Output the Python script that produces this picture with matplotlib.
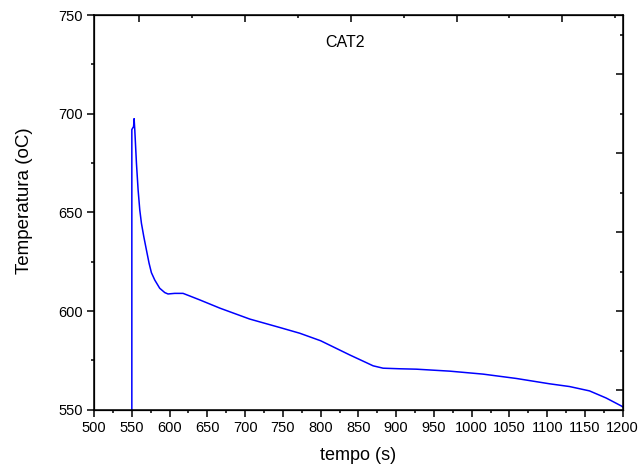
import matplotlib
matplotlib.use("Agg")
import matplotlib.pyplot as plt
from matplotlib.ticker import MultipleLocator

# Curve (time s, temperature oC)
Tempo = [550, 550, 552.3, 553, 553.9, 556.1, 558.3, 560.5, 562.7, 565.8, 569.3,
         572.8, 575.9, 580.3, 586.9, 593.6, 597.9, 606.8, 617.8, 626.6, 639.9,
         666.7, 706, 746, 772.4, 800, 838.6, 860, 869.5, 882.7, 905, 926.7, 971,
         1015, 1059, 1103, 1129.6, 1156, 1178, 1198, 1200]
Temperatura = [550, 692, 693.5, 697.5, 691.8, 674.9, 661.4, 651.3, 644.5, 637.8,
               631.0, 624.3, 619.5, 615.8, 611.6, 609.4, 608.7, 609.0, 609.0,
               607.7, 605.7, 601.5, 596, 591.7, 588.8, 585, 577.8, 574, 572.3,
               571.1, 570.8, 570.6, 569.6, 568.1, 565.9, 563.2, 561.8, 559.6, 556,
               552, 551.5]

plt.rcParams['font.family'] = ['Liberation Sans', 'DejaVu Sans']

Fig = plt.figure(figsize=(6.4, 4.7), dpi=100)
Ax = Fig.add_axes([0.147, 0.128, 0.826, 0.840])
Ax.plot(Tempo, Temperatura, color='#0000ff', linewidth=1.1)

Ax.set_xlim(500, 1200)
Ax.set_ylim(550, 750)
Ax.xaxis.set_major_locator(MultipleLocator(50))
Ax.xaxis.set_minor_locator(MultipleLocator(25))
Ax.yaxis.set_major_locator(MultipleLocator(50))
Ax.yaxis.set_minor_locator(MultipleLocator(25))
Ax.tick_params(which='both', direction='out', width=1.1, labelsize=10.5, pad=3)
Ax.tick_params(which='major', length=5)
Ax.tick_params(which='minor', length=2.5)
for Spine in Ax.spines.values():
    Spine.set_linewidth(1.1)

# mirrored axes with their own ticks pointing inward (Origin style)
Top = Ax.twiny()
Top.set_xlim(500, 1200)
Top.xaxis.set_major_locator(MultipleLocator(140))
Top.xaxis.set_minor_locator(MultipleLocator(70))
Top.tick_params(which='both', direction='in', width=1.1, labeltop=False)
Top.tick_params(which='major', length=5)
Top.tick_params(which='minor', length=2.5)

Right = Ax.twinx()
Right.set_ylim(550, 750)
Right.yaxis.set_major_locator(MultipleLocator(40))
Right.yaxis.set_minor_locator(MultipleLocator(20))
Right.tick_params(which='both', direction='in', width=1.1, labelright=False)
Right.tick_params(which='major', length=5)
Right.tick_params(which='minor', length=2.5)

Ax.set_xlabel("tempo (s)", fontsize=13)
Ax.xaxis.set_label_coords(0.5, -0.093)
Ax.set_ylabel("Temperatura (oC)", fontsize=13.5)
Ax.yaxis.set_label_coords(-0.115, 0.53)
Ax.text(0.474, 0.93, "CAT2", transform=Ax.transAxes, ha='center', va='center', fontsize=11.5)

Fig.savefig("out.png", dpi=100)
